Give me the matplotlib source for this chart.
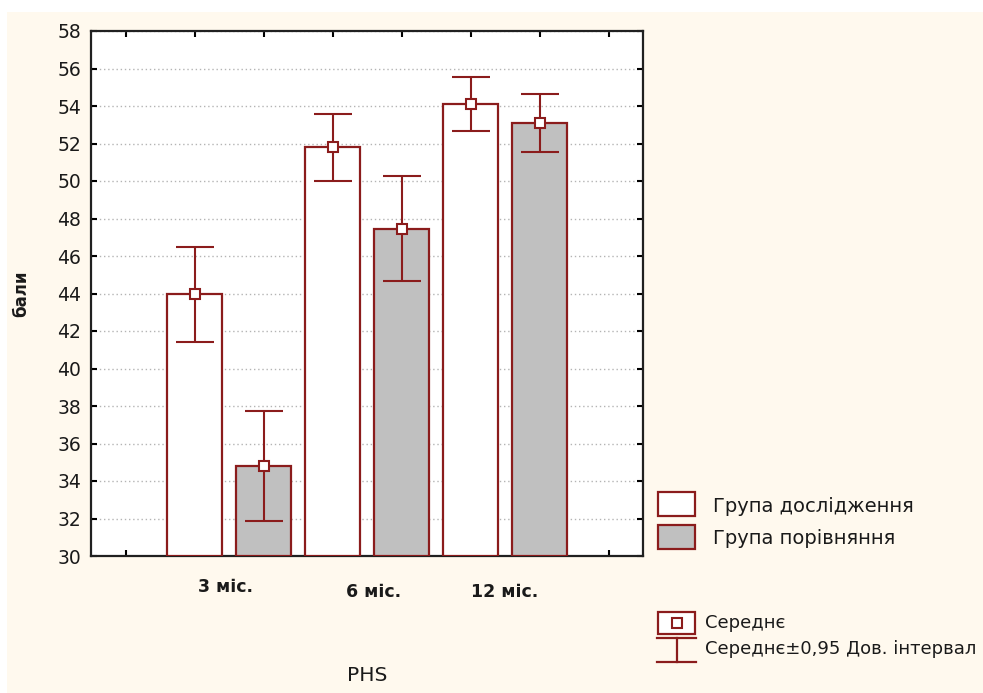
import matplotlib.pyplot as plt
import numpy as np
from matplotlib.patches import Rectangle
from matplotlib.lines import Line2D

# -----------------------------------------------------------------------------
# DATA
# -----------------------------------------------------------------------------
groups = ["3 міс.", "6 міс.", "12 міс."]
series_names = ["Група дослідження", "Група порівняння"]
study_mean = [43.95, 51.8, 54.1]
study_ci = [2.55, 1.8, 1.45]
comp_mean = [34.8, 47.45, 53.1]
comp_ci = [2.95, 2.8, 1.55]

# -----------------------------------------------------------------------------
# STYLE
# -----------------------------------------------------------------------------
RED = "#8b1c1c"
GRAY = "#c0c0c0"
CREAM = "#fff9ee"
TXT = "#1a1a1a"
plt.rcParams["font.family"] = ["DejaVu Sans"]

fig = plt.figure(figsize=(9.83, 6.93), dpi=100, facecolor="white")
fig.patches.append(Rectangle((7 / 983, 0), 1, 1 - 12 / 693, transform=fig.transFigure,
                             fc=CREAM, ec="none", zorder=-10))

ax = fig.add_axes([91 / 983, 1 - 556 / 693, 552 / 983, 525 / 693])
ax.set_facecolor("white")

x_study = np.arange(len(groups)) * 2 + 1
x_comp = x_study + 1
err_kw = dict(fmt="none", ecolor=RED, elinewidth=1.5, capsize=14, capthick=1.5, zorder=4)
mark_kw = dict(ls="none", marker="s", ms=7.5, mfc="white", mec=RED, mew=1.5, zorder=5)

ax.bar(x_study, np.array(study_mean) - 30, bottom=30, width=0.8, color="white",
       edgecolor=RED, linewidth=1.6, zorder=3)
ax.bar(x_comp, np.array(comp_mean) - 30, bottom=30, width=0.8, color=GRAY,
       edgecolor=RED, linewidth=1.6, zorder=3)
ax.errorbar(x_study, study_mean, yerr=study_ci, **err_kw)
ax.errorbar(x_comp, comp_mean, yerr=comp_ci, **err_kw)
ax.plot(x_study, study_mean, **mark_kw)
ax.plot(x_comp, comp_mean, **mark_kw)

ax.set_xlim(-0.5, 7.5)
ax.set_ylim(30, 58)
ax.set_yticks(np.arange(30, 59, 2))
ax.set_xticks(np.arange(0, 8))
ax.set_xticklabels([])
ax.tick_params(axis="both", direction="in", length=4, width=1.5, color="black",
               top=True, right=True, labelsize=13.5, labelcolor=TXT, pad=7)
ax.yaxis.grid(True, linestyle=(0, (1, 2)), color="#b4b4b4", linewidth=1.0)
ax.set_axisbelow(True)
for sp in ax.spines.values():
    sp.set_linewidth(1.6)
    sp.set_color("#202020")

# category labels under groups (staggered like the original)
label_dy = [-0.059, -0.069, -0.069]
label_dx = [-0.05, 0.1, 0.0]
for i, g in enumerate(groups):
    ax.text((x_study[i] + x_comp[i]) / 2 + label_dx[i], label_dy[i], g,
            transform=ax.get_xaxis_transform(), ha="center", va="center",
            fontsize=12.5, fontweight="bold", color=TXT)
ax.text(3.5, -0.227, "PHS", transform=ax.get_xaxis_transform(), ha="center",
        va="center", fontsize=14.5, color=TXT)

ax.set_ylabel("бали", fontsize=12, fontweight="bold", color=TXT)
ax.yaxis.set_label_coords(-0.11, 0.5)

# -----------------------------------------------------------------------------
# LEGEND (drawn in pixel space overlay)
# -----------------------------------------------------------------------------
lg = fig.add_axes([0, 0, 1, 1], facecolor="none")
lg.set_xlim(0, 983)
lg.set_ylim(693, 0)
lg.axis("off")

for (y0, fc), name, ty in zip([(492, "white"), (525, GRAY)], series_names, [506, 538]):
    lg.add_patch(Rectangle((658, y0), 37, 24, fc=fc, ec=RED, lw=1.6))
    lg.text(713, ty, name, fontsize=14, color=TXT, va="center", ha="left")

lg.add_patch(Rectangle((658, 612), 37, 22, fc="white", ec=RED, lw=1.6))
lg.plot([676.5], [623], **mark_kw)
lg.add_line(Line2D([657, 696], [638, 638], color=RED, lw=1.6))
lg.add_line(Line2D([676.5, 676.5], [638, 662], color=RED, lw=1.6))
lg.add_line(Line2D([657, 696], [662, 662], color=RED, lw=1.6))
lg.text(705, 623, "Середнє", fontsize=13, color=TXT, va="center", ha="left")
lg.text(705, 649, "Середнє±0,95 Дов. інтервал", fontsize=13, color=TXT, va="center", ha="left")

fig.savefig("out.png", dpi=100, facecolor=fig.get_facecolor())
